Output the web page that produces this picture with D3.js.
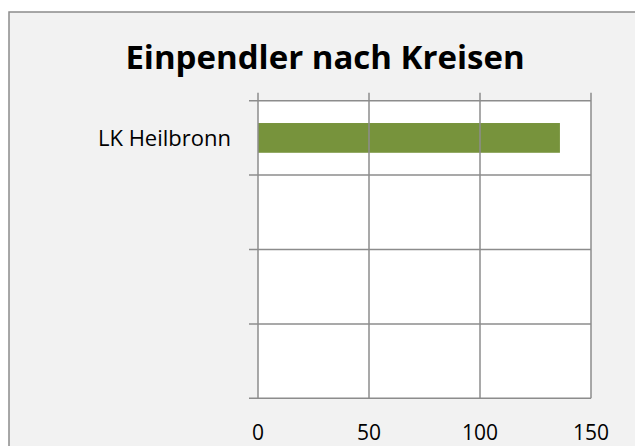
<!DOCTYPE html>
<html>
<head>
<meta charset="utf-8">
<script src="https://cdn.jsdelivr.net/npm/d3@7"></script>
<style>
  body { margin: 0; background: #fff; }
  text { font-family: "Open Sans", sans-serif; fill: #000; }
</style>
</head>
<body>
<div id="wrapper"></div>
<script>
// data
const title = "Einpendler nach Kreisen"
const categories = ["LK Heilbronn", "", "", ""]
const values = [136, null, null, null]
const xTicks = [0, 50, 100, 150]

function drawChart() {
  const width = 635
  const height = 446
  let dimensions = {
    width: width,
    height: height,
    plot: { left: 258, right: 591, top: 100.7, bottom: 398.3 }
  }

  const svg = d3.select("#wrapper")
    .append("svg")
    .attr("width", dimensions.width)
    .attr("height", dimensions.height)

  // chart area (runs past the right and bottom edge)
  svg.append("rect")
    .attr("x", 9)
    .attr("y", 12)
    .attr("width", 700)
    .attr("height", 500)
    .attr("fill", "#f2f2f2")
    .attr("stroke", "#8c8c8c")
    .attr("stroke-width", 1.5)

  // scales
  const xScale = d3.scaleLinear()
    .domain([0, 150])
    .range([dimensions.plot.left, dimensions.plot.right])
  const yScale = d3.scaleBand()
    .domain(d3.range(categories.length))
    .range([dimensions.plot.top, dimensions.plot.bottom])
    .paddingInner(0.6)
    .paddingOuter(0.3)
  const step = yScale.step()
  const bandTop = i => dimensions.plot.top + i * step

  // plot area
  svg.append("rect")
    .attr("x", xScale(0))
    .attr("y", dimensions.plot.top)
    .attr("width", xScale(150) - xScale(0))
    .attr("height", dimensions.plot.bottom - dimensions.plot.top)
    .attr("fill", "#fff")

  // bars
  svg.append("g")
    .selectAll("rect")
    .data(values.map((v, i) => ({ v, i })).filter(d => d.v != null))
    .join("rect")
      .attr("x", xScale(0))
      .attr("y", d => yScale(d.i))
      .attr("width", d => xScale(d.v) - xScale(0))
      .attr("height", yScale.bandwidth())
      .attr("fill", "#77933c")

  // vertical gridlines + ticks on top
  svg.append("g")
    .selectAll("line")
    .data(xTicks)
    .join("line")
      .attr("x1", d => xScale(d))
      .attr("x2", d => xScale(d))
      .attr("y1", dimensions.plot.top - 8)
      .attr("y2", dimensions.plot.bottom)
      .attr("stroke", "#8c8c8c")
      .attr("stroke-width", 1.5)

  // horizontal category boundaries + ticks on the left
  svg.append("g")
    .selectAll("line")
    .data(d3.range(categories.length + 1))
    .join("line")
      .attr("x1", xScale(0) - 9)
      .attr("x2", xScale(150))
      .attr("y1", d => bandTop(d))
      .attr("y2", d => bandTop(d))
      .attr("stroke", "#8c8c8c")
      .attr("stroke-width", 1.5)

  // x tick labels
  svg.append("g")
    .selectAll("text")
    .data(xTicks)
    .join("text")
      .attr("x", d => xScale(d))
      .attr("y", 440)
      .attr("text-anchor", "middle")
      .style("font-size", "21px")
      .text(d => d)

  // category labels
  svg.append("g")
    .selectAll("text")
    .data(categories)
    .join("text")
      .attr("x", xScale(0) - 27)
      .attr("y", (d, i) => yScale(i) + yScale.bandwidth() / 2 + 8)
      .attr("text-anchor", "end")
      .style("font-size", "22px")
      .text(d => d)

  // title
  svg.append("text")
    .attr("x", 325)
    .attr("y", 69)
    .attr("text-anchor", "middle")
    .style("font-size", "33px")
    .style("font-weight", "bold")
    .text(title)
}
drawChart()
</script>
</body>
</html>
